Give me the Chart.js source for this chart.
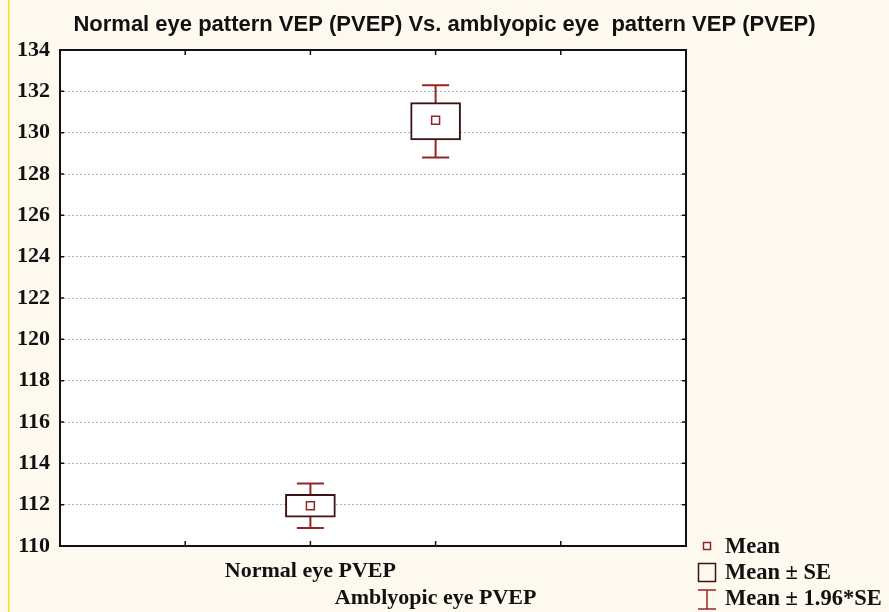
<!DOCTYPE html>
<html>
<head>
<meta charset="utf-8">
<script src="https://cdn.jsdelivr.net/npm/chart.js@4"></script>
<style>
  body { margin: 0; background: #fef9ee; }
  #wrap { width: 889px; height: 612px; }
</style>
</head>
<body>
<div id="wrap"><canvas id="myChart" width="889" height="612"></canvas></div>
<script>
// data
const groups = ["Normal eye PVEP", "Amblyopic eye PVEP"];
const groupPos = [2, 3];
const means = [111.95, 130.6];
const seLow = [111.4, 129.65];
const seHigh = [112.5, 131.45];
const ciLow = [110.87, 128.8];
const ciHigh = [113.02, 132.3];
const yMin = 110, yMax = 134, yStep = 2;
const xMin = 0, xMax = 5;
const legendLabels = ["Mean", "Mean \u00b1 SE", "Mean \u00b1 1.96*SE"];

let ctx = document.querySelector("#myChart");
const serif = "'Liberation Serif', 'Times New Roman', serif";
const boxColor = "#3d1414";
const redColor = "#962424";

// paper, plot area, frame, whiskers, legend
const extras = {
    id: "extras",
    beforeDraw(chart) {
        let c = chart.ctx, a = chart.chartArea;
        c.save();
        c.fillStyle = "#fef9ee";
        c.fillRect(0, 0, chart.width, chart.height);
        c.fillStyle = "#ffffff";
        c.fillRect(a.left, a.top, a.right - a.left, a.bottom - a.top);
        c.fillStyle = "#f7e21a";
        c.fillRect(8, 0, 1.5, chart.height);
        c.restore();
    },
    beforeDatasetsDraw(chart) {
        let c = chart.ctx, x = chart.scales.x, y = chart.scales.y;
        c.save();
        c.strokeStyle = redColor;
        c.lineWidth = 2;
        groupPos.forEach((p, i) => {
            let px = x.getPixelForValue(p);
            let top = y.getPixelForValue(ciHigh[i]);
            let bot = y.getPixelForValue(ciLow[i]);
            c.beginPath();
            c.moveTo(px, top); c.lineTo(px, bot);
            c.moveTo(px - 13.5, top); c.lineTo(px + 13.5, top);
            c.moveTo(px - 13.5, bot); c.lineTo(px + 13.5, bot);
            c.stroke();
        });
        c.restore();
    },
    afterDraw(chart) {
        let c = chart.ctx, a = chart.chartArea, x = chart.scales.x, y = chart.scales.y;
        c.save();
        // frame
        c.strokeStyle = "#111";
        c.lineWidth = 2;
        c.strokeRect(a.left, a.top, a.right - a.left, a.bottom - a.top);
        // inward tick marks
        c.lineWidth = 1.5;
        c.beginPath();
        for (let v = yMin + yStep; v < yMax; v += yStep) {
            let py = y.getPixelForValue(v);
            c.moveTo(a.left, py); c.lineTo(a.left + 4, py);
            c.moveTo(a.right, py); c.lineTo(a.right - 4, py);
        }
        for (let v = xMin + 1; v < xMax; v++) {
            let px = x.getPixelForValue(v);
            c.moveTo(px, a.top); c.lineTo(px, a.top + 5);
            c.moveTo(px, a.bottom); c.lineTo(px, a.bottom - 5);
        }
        c.stroke();

        // legend
        c.lineWidth = 1.5;
        c.strokeStyle = redColor;
        c.strokeRect(703.5, 542.5, 7, 7);
        c.strokeStyle = boxColor;
        c.strokeRect(698.5, 563.5, 17, 18);
        c.strokeStyle = redColor;
        c.beginPath();
        c.moveTo(707, 590); c.lineTo(707, 609);
        c.moveTo(698, 590); c.lineTo(716, 590);
        c.moveTo(698, 609); c.lineTo(716, 609);
        c.stroke();
        c.fillStyle = "#111";
        c.font = "bold 22.5px " + serif;
        c.textBaseline = "middle";
        c.fillText(legendLabels[0], 725, 547);
        c.fillText(legendLabels[1], 725, 573);
        c.fillText(legendLabels[2], 725, 599);
        c.restore();
    }
};

new Chart(ctx, {
    type: "bar",
    data: {
        datasets: [
            {
                type: "scatter",
                label: "Mean",
                data: groupPos.map((p, i) => ({ x: p, y: means[i] })),
                pointStyle: "rect",
                pointRadius: 5.6,
                pointBorderWidth: 1.5,
                pointBorderColor: redColor,
                pointBackgroundColor: "#ffffff",
                order: 0
            },
            {
                label: "Mean \u00b1 SE",
                data: groupPos.map((p, i) => ({ x: p, y: [seLow[i], seHigh[i]] })),
                backgroundColor: "#ffffff",
                borderColor: boxColor,
                borderWidth: 2,
                borderSkipped: false,
                barThickness: 50,
                order: 1
            }
        ]
    },
    options: {
        responsive: false,
        animation: false,
        layout: { padding: 0 },
        plugins: {
            legend: { display: false },
            tooltip: { enabled: false },
            title: {
                display: true,
                text: "Normal eye pattern VEP (PVEP) Vs. amblyopic eye  pattern VEP (PVEP)",
                color: "#111",
                font: { family: "'Liberation Sans', Arial, sans-serif", size: 22, weight: "bold", lineHeight: 1.1 },
                padding: { top: 13, bottom: 12.8 }
            }
        },
        scales: {
            x: {
                type: "linear",
                min: xMin,
                max: xMax,
                offset: false,
                grid: { display: false, drawTicks: false },
                border: { display: false },
                ticks: {
                    stepSize: 1,
                    autoSkip: false,
                    maxRotation: 0,
                    padding: 12,
                    color: "#111",
                    font: { family: serif, size: 22, weight: "bold", lineHeight: 1.23 },
                    callback: function (v) {
                        let i = groupPos.indexOf(v);
                        if (i < 0) return "";
                        return i === 0 ? [groups[0]] : ["", groups[1]];
                    }
                },
                afterFit: function (s) { s.height = 66; }
            },
            y: {
                min: yMin,
                max: yMax,
                grid: {
                    color: "#b4b4b4",
                    lineWidth: 1,
                    drawTicks: false
                },
                border: { display: false, dash: [2, 2] },
                ticks: {
                    stepSize: yStep,
                    padding: 10,
                    color: "#111",
                    font: { family: serif, size: 22, weight: "bold" }
                },
                afterFit: function (s) { s.width = 60; }
            },
            yRight: {
                position: "right",
                min: yMin,
                max: yMax,
                grid: { display: false },
                border: { display: false },
                ticks: { display: false },
                afterFit: function (s) { s.width = 203; }
            }
        }
    },
    plugins: [extras]
});
</script>
</body>
</html>
